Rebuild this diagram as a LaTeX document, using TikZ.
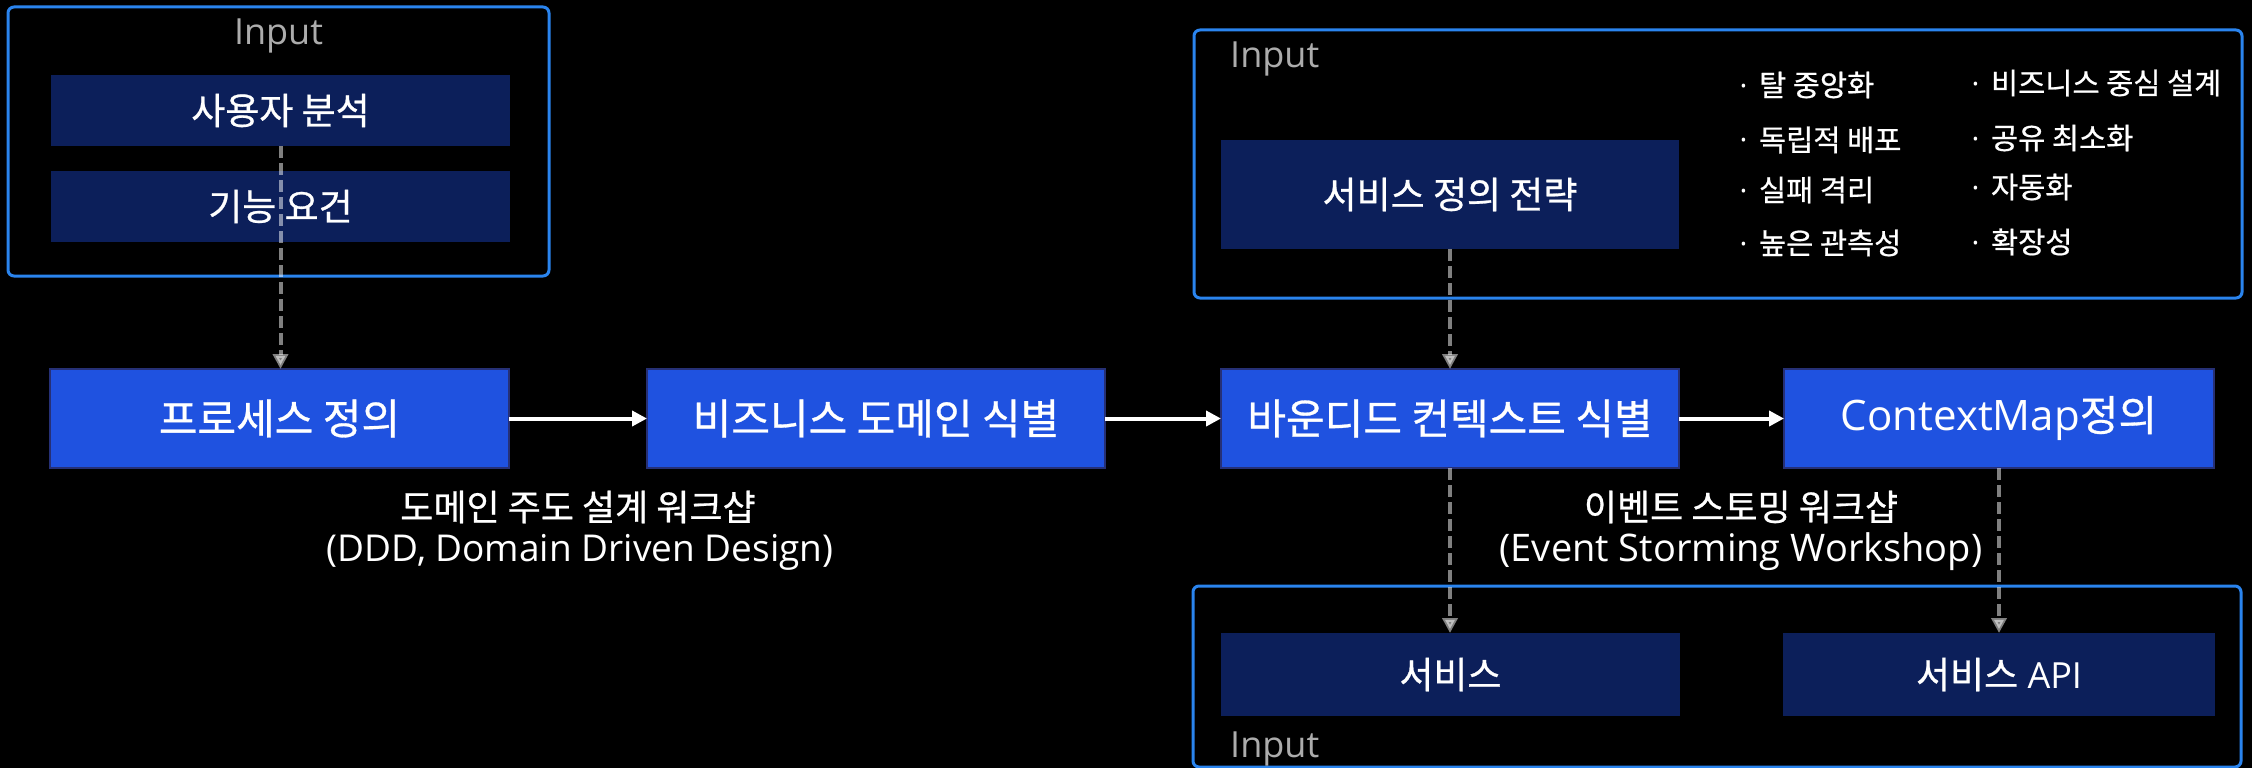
\documentclass[tikz,border=0pt]{standalone}
\usepackage{fontspec}
\setmainfont{Open Sans}
\newfontfamily\kr[FakeBold=0.7]{Noto Sans CJK KR}
\usetikzlibrary{arrows.meta}

\definecolor{bluefill}{RGB}{31,82,224}
\definecolor{blueedge}{RGB}{38,48,118}
\definecolor{navyfill}{RGB}{12,31,90}
\definecolor{frameblue}{RGB}{42,132,238}
\definecolor{labelgray}{RGB}{172,172,172}

\newcommand\fsz[1]{\fontsize{#1pt}{#1pt}\selectfont}
\newcommand\bulitem[1]{{\fsz{29.5}\textperiodcentered\hspace{11.5pt}\kr #1}}

\tikzset{
  frame/.style={draw=frameblue, line width=3pt, rounded corners=6pt, inner sep=0pt, outer sep=0pt},
  stepbox/.style={draw=blueedge, line width=2pt, fill=bluefill, text=white,
    minimum height=99pt, inner sep=0pt, outer sep=0pt},
  navybox/.style={fill=navyfill, text=white, inner sep=0pt, outer sep=0pt},
  flow/.style={draw=white, line width=4pt, -{Triangle[length=15pt,width=15pt]}},
  dep/.style={draw=white, opacity=.5, line width=4pt, dash pattern=on 12pt off 5pt,
    -{Triangle[length=15pt,width=15pt]}},
  caption/.style={text=white, inner sep=0pt, align=center},
  inlabel/.style={text=labelgray, inner sep=0pt, font=\fsz{36}},
  bullet/.style={text=white, inner sep=0pt, anchor=west}
}

\begin{document}
\begin{tikzpicture}[x=1pt, y=-1pt]
\fill[black] (0,0) rectangle (2252,768);
\useasboundingbox (0,0) rectangle (2252,768);

% input frames
\node[frame, minimum width=541pt, minimum height=269pt] (frameA) at (278.5,141.5) {};
\node[frame, minimum width=1048pt, minimum height=268pt] (frameB) at (1718,164) {};
\node[frame, minimum width=1048pt, minimum height=181pt] (frameC) at (1717,676.5) {};

\node[inlabel, anchor=base] (labelA) at (278.5,45) {Input};
\node[inlabel, anchor=base west] (labelB) at (1230,67) {Input};
\node[inlabel, anchor=base west] (labelC) at (1230,757) {Input};

% input / output boxes
\node[navybox, minimum width=459pt, minimum height=71pt] (users) at (280.5,110.5) {\kr\fsz{37}사용자 분석};
\node[navybox, minimum width=459pt, minimum height=71pt] (reqs) at (280.5,206.5) {\kr\fsz{37}기능 요건};
\node[navybox, minimum width=458pt, minimum height=109pt] (strategy) at (1450,194.5) {\kr\fsz{37}서비스 정의 전략};
\node[navybox, minimum width=459pt, minimum height=83pt] (service) at (1450.5,674.5) {\kr\fsz{37}서비스};
\node[navybox, minimum width=432pt, minimum height=83pt] (api) at (1999,674.5) {\fsz{36}{\kr\fsz{37}서비스} API};

% process steps
\node[stepbox, minimum width=459pt] (process) at (279.5,418.5) {\kr\fsz{42}프로세스 정의};
\node[stepbox, minimum width=458pt] (domain) at (876,418.5) {\kr\fsz{42}비즈니스 도메인 식별};
\node[stepbox, minimum width=458pt] (context) at (1450,418.5) {\kr\fsz{42}바운디드 컨텍스트 식별};
\node[stepbox, minimum width=430pt] (cmap) at (1999,418.5) {{\fsz{42}ContextMap}{\kr\fsz{42}정의}};

% principles list
\node[bullet] (p1) at (1739.5,85) {\bulitem{탈 중앙화}};
\node[bullet] (p2) at (1739.5,140) {\bulitem{독립적 배포}};
\node[bullet] (p3) at (1739.5,190) {\bulitem{실패 격리}};
\node[bullet] (p4) at (1739.5,243) {\bulitem{높은 관측성}};
\node[bullet] (p5) at (1971.5,83) {\bulitem{비즈니스 중심 설계}};
\node[bullet] (p6) at (1971.5,138) {\bulitem{공유 최소화}};
\node[bullet] (p7) at (1971.5,187) {\bulitem{자동화}};
\node[bullet] (p8) at (1971.5,242) {\bulitem{확장성}};

% workshop captions
\node[caption] (dddKo) at (578,507) {\kr\fsz{36}도메인 주도 설계 워크샵};
\node[caption] (dddEn) at (580,552) {\fsz{37}(DDD, Domain Driven Design)};
\node[caption] (esKo) at (1741,507) {\kr\fsz{36}이벤트 스토밍 워크샵};
\node[caption] (esEn) at (1741,552) {\fsz{38}(Event Storming Workshop)};

% main flow
\draw[flow] (process.east) -- (domain.west);
\draw[flow] (domain.east) -- (context.west);
\draw[flow] (context.east) -- (cmap.west);

% inputs and outputs
\draw[dep] (users.south) -- (users.south |- process.north);
\draw[dep] (strategy.south) -- (strategy.south |- context.north);
\draw[dep] (context.south) -- (context.south |- service.north);
\draw[dep] (cmap.south) -- (cmap.south |- api.north);
\end{tikzpicture}
\end{document}
